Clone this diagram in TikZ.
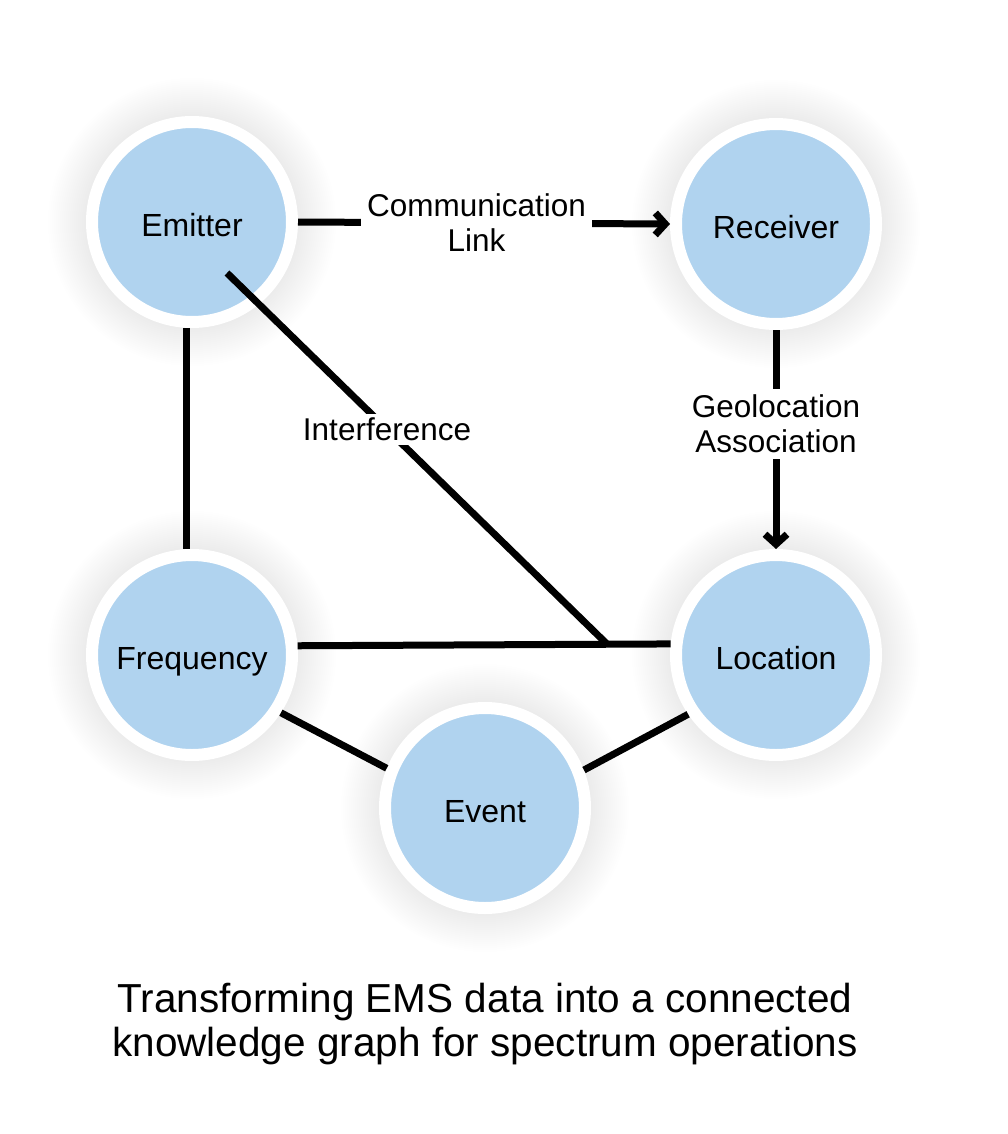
\documentclass[tikz,border=0pt]{standalone}
\usepackage{fontspec}
\setmainfont{Liberation Sans}
\usetikzlibrary{arrows.meta}
\definecolor{nodeblue}{RGB}{176,211,239}
\tikzset{
  entity/.style={circle, fill=nodeblue, draw=white, line width=12pt, minimum size=200pt, inner sep=0pt,
    text height=29pt, text depth=0pt, font=\fontsize{32}{36}\selectfont},
  link/.style={line width=7pt, black},
  linkarrow/.style={link, -{Straight Barb[length=10pt,width=22pt]}},
  elabel/.style={fill=white, align=center, inner sep=6pt, font=\fontsize{31.5}{35}\selectfont},
}
\begin{document}
\begin{tikzpicture}[x=1pt,y=-1pt]
\useasboundingbox[fill=white] (0,0) rectangle (1007,1134);
% centres
\coordinate (cE) at (192,222);
\coordinate (cR) at (776,224);
\coordinate (cF) at (192,655);
\coordinate (cL) at (776,655);
\coordinate (cV) at (485,808);
% soft shadows
\foreach \c in {cE,cR,cF,cL,cV}{
  \foreach \r in {108,110,...,144}{
    \fill[black, opacity=0.0035] (\c) circle[radius=\r pt];
  }
}
% nodes
\node[entity] (emitter) at (cE) {Emitter};
\node[entity] (receiver) at (cR) {Receiver};
\node[entity] (frequency) at (cF) {Frequency};
\node[entity] (location) at (cL) {Location};
\node[entity] (event) at (cV) {Event};
% connectors
\draw[linkarrow] (emitter.0) -- node[elabel, pos=0.48] {Communication\\Link} (receiver.180);
\draw[linkarrow] (receiver.270) -- node[elabel, pos=0.43] {Geolocation\\Association} (location.90);
\draw[link] (emitter.267) -- (frequency.93);
\draw[link] (frequency.5.4) -- (location.174.6);
\draw[link] (frequency.-33.7) -- (event.158.2);
\draw[link] (event.21.8) -- (location.214.3);
\coordinate (intstart) at (227,273);
\coordinate (intend) at (608,645);
\draw[link] (intstart) -- node[elabel, pos=0.42, inner sep=4pt] {Interference} (intend);
% caption
\node[align=center, font=\fontsize{40.5}{44}\selectfont] (caption) at (485,1024)
  {Transforming EMS data into a connected\\knowledge graph for spectrum operations};
\end{tikzpicture}
\end{document}
